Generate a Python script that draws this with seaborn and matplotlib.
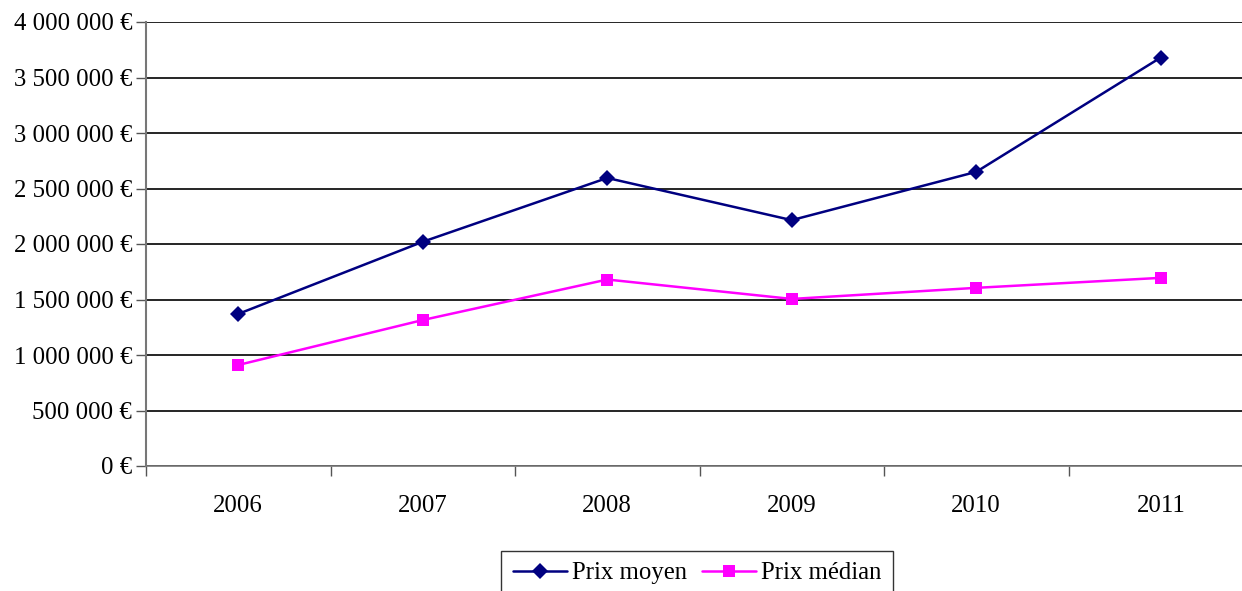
import matplotlib
matplotlib.use("Agg")
import matplotlib.pyplot as plt
from matplotlib.ticker import FuncFormatter, FixedLocator
import seaborn as sns
import pandas as pd

years = ["2006", "2007", "2008", "2009", "2010", "2011"]
prix_moyen = [1370000, 2020000, 2595000, 2215000, 2650000, 3680000]
prix_median = [910000, 1315000, 1680000, 1505000, 1605000, 1695000]
series_names = ["Prix moyen", "Prix médian"]

df = pd.DataFrame({
    "annee": years * 2,
    "prix": prix_moyen + prix_median,
    "serie": [series_names[0]] * len(years) + [series_names[1]] * len(years),
})

sns.set_theme(style="white")
plt.rcParams["font.family"] = ["Liberation Serif", "DejaVu Serif"]

FS = 17.8

fig = plt.figure(figsize=(12.42, 5.91), dpi=100)
ax = fig.add_axes([146 / 1242, 1 - 466 / 591, (1253 - 146) / 1242, 444 / 591])

palette = {series_names[0]: "#000080", series_names[1]: "#FF00FF"}
markers = {series_names[0]: "D", series_names[1]: "s"}
sns.lineplot(data=df, x="annee", y="prix", hue="serie", style="serie",
             palette=palette, markers=markers, dashes=False, markersize=8.5,
             markeredgewidth=0, linewidth=1.8, ax=ax, legend=False, sort=False)

ax.set_xlim(-0.5, 5.5)
ax.set_ylim(0, 4000000)
ax.set_yticks(range(0, 4000001, 500000))


def euro(v, _):
    s = f"{int(v):,}".replace(",", " ")
    return f"{s} €"


ax.yaxis.set_major_formatter(FuncFormatter(euro))
ax.set_xticks(range(len(years)))
ax.set_xticklabels(years)
ax.xaxis.set_minor_locator(FixedLocator([i - 0.5 for i in range(len(years) + 1)]))
ax.tick_params(axis="x", which="major", length=0, pad=21, labelsize=FS)
ax.tick_params(axis="x", which="minor", length=7, width=1, color="#555555", bottom=True)
ax.tick_params(axis="y", which="major", length=7, width=1, color="#555555",
               left=True, pad=3, labelsize=FS)
for lab in ax.get_yticklabels() + ax.get_xticklabels():
    lab.set_color("black")

ax.set_xlabel("")
ax.set_ylabel("")
ax.yaxis.grid(True, color="black", linewidth=1.2)
ax.set_axisbelow(True)
for side in ["top", "right"]:
    ax.spines[side].set_visible(False)
ax.spines["left"].set_color("#777777")
ax.spines["left"].set_linewidth(1.5)
ax.spines["bottom"].set_color("#777777")
ax.spines["bottom"].set_linewidth(1.2)

handles = [
    plt.Line2D([], [], color=palette[n], marker=markers[n], markersize=8.5,
               markeredgewidth=0, linewidth=1.8, label=n)
    for n in series_names
]
leg = fig.legend(handles=handles, loc="upper center",
                 bbox_to_anchor=(697 / 1242, 1 - 551 / 591), ncol=2,
                 frameon=True, fancybox=False, fontsize=FS,
                 handlelength=2.2, handletextpad=0.2, columnspacing=0.6,
                 borderpad=0.45, borderaxespad=0)
leg.get_frame().set_edgecolor("black")
leg.get_frame().set_linewidth(1.0)
for t in leg.get_texts():
    t.set_color("black")

fig.savefig("out.png", dpi=100)
